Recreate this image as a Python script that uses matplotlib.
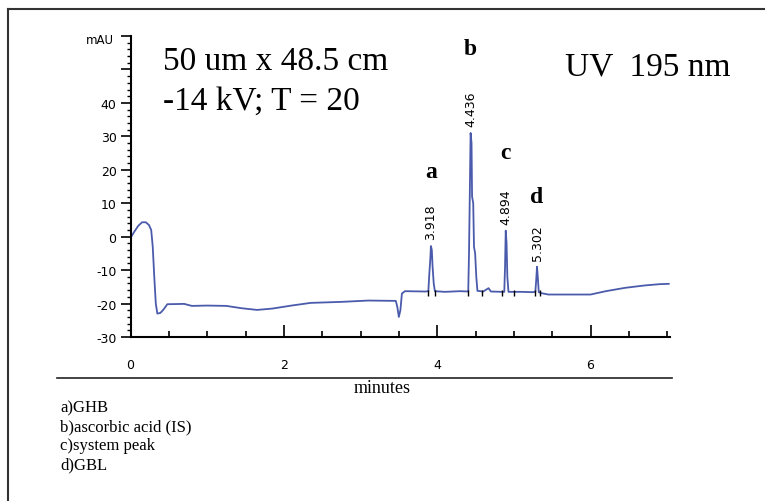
import matplotlib
matplotlib.use("Agg")
import matplotlib.pyplot as plt
from matplotlib.lines import Line2D
from matplotlib.ticker import MultipleLocator

# ----------------------------
# Electropherogram trace (minutes, mAU)
# ----------------------------
time_min = [
    0.00, 0.05, 0.10, 0.15, 0.20, 0.24, 0.27, 0.29, 0.31, 0.33, 0.35, 0.39, 0.43, 0.48,
    0.70, 0.80, 1.00, 1.25, 1.45, 1.65, 1.85, 2.10, 2.35, 2.75, 3.10, 3.46, 3.48, 3.50,
    3.52, 3.54, 3.58, 3.85,
    3.885, 3.895, 3.905, 3.912, 3.918, 3.93, 3.94, 3.955, 3.97,
    4.10, 4.30, 4.405,
    4.415, 4.425, 4.436, 4.448, 4.455, 4.47, 4.48, 4.495, 4.51, 4.525,
    4.60, 4.67, 4.70, 4.85,
    4.875, 4.885, 4.894, 4.905, 4.915, 4.93,
    5.10, 5.25,
    5.28, 5.29, 5.302, 5.312, 5.325, 5.36,
    5.45, 6.00, 6.20, 6.45, 6.70, 6.90, 7.02,
]
signal_mau = [
    -0.4, 1.5, 3.2, 4.3, 4.3, 3.5, 2.0, -3.0, -12.0, -20.0, -23.0, -22.8, -21.8, -20.2,
    -20.1, -20.7, -20.6, -20.7, -21.4, -21.9, -21.5, -20.6, -19.8, -19.5, -19.1, -19.2, -21.0, -24.0,
    -22.0, -17.0, -16.3, -16.4,
    -16.3, -12.0, -8.5, -6.0, -2.8, -4.0, -9.0, -14.0, -16.3,
    -16.5, -16.3, -16.4,
    -5.0, 12.0, 31.0, 28.0, 12.0, 10.0, -3.0, -5.0, -12.0, -16.2,
    -16.4, -15.4, -16.4, -16.5,
    -16.5, -9.0, 1.8, -2.0, -12.0, -16.5,
    -16.5, -16.6,
    -16.5, -13.5, -9.0, -12.0, -16.6, -16.9,
    -17.3, -17.3, -16.3, -15.3, -14.6, -14.2, -14.1,
]

# peaks: letter, retention time, apex height, letter height
peak_letters = ["a", "b", "c", "d"]
peak_times = [3.918, 4.436, 4.894, 5.302]
peak_tops = [-2.8, 31.0, 1.8, -9.0]
letter_y = [19.5, 56.4, 25.1, 12.0]

# integration marks at the peak bases
mark_times = [3.88, 3.97, 4.40, 4.59, 4.84, 5.00, 5.27, 5.34]

legend_lines = ["a)GHB", "b)ascorbic acid (IS)", "c)system peak", "d)GBL"]

W, H = 765, 502
fig = plt.figure(figsize=(W / 100, H / 100), dpi=100)
ax = fig.add_axes([130.5 / W, 1 - 338 / H, 539 / W, 301 / H])

trace_color = "#4b5bab"
ax.plot(time_min, signal_mau, color=trace_color, lw=1.3)
ax.vlines(mark_times, -17.8, -15.8, color="black", lw=1.0)

for letter, rt, top, ly in zip(peak_letters, peak_times, peak_tops, letter_y):
    ax.annotate(f"{rt:.3f}", xy=(rt, top), xytext=(0, 5), textcoords="offset points",
                rotation=90, ha="center", va="bottom", fontsize=9,
                family="DejaVu Sans")
    ax.text(rt, ly, letter, ha="center", va="center", fontsize=17,
            fontweight="bold", family="Liberation Serif")

ax.set_xlim(0, 7.03)
ax.set_ylim(-30, 60)
for side in ["top", "right"]:
    ax.spines[side].set_visible(False)
for side in ["left", "bottom"]:
    ax.spines[side].set_linewidth(1.5)

ax.xaxis.set_major_locator(MultipleLocator(2))
ax.xaxis.set_minor_locator(MultipleLocator(0.5))
ax.yaxis.set_minor_locator(MultipleLocator(2))
ax.set_yticks(range(-30, 61, 10))
ax.set_yticklabels([str(v) if v <= 40 else "" for v in range(-30, 61, 10)])
ax.tick_params(axis="x", direction="in", length=9, width=1.2, labelsize=9, pad=15)
ax.tick_params(axis="x", which="minor", direction="in", length=4, width=1.2)
ax.tick_params(axis="y", direction="out", length=7, width=1.2, labelsize=9, pad=3)
ax.tick_params(axis="y", which="minor", direction="out", length=3, width=1)
ax.text(-0.03, 59, "mAU", transform=ax.get_yaxis_transform(), ha="right",
        va="center", fontsize=8.5)

# title texts
serif = "Liberation Serif"
fig.text(163 / W, 1 - 70 / H, "50 um x 48.5 cm", family=serif, fontsize=24, va="baseline")
fig.text(163 / W, 1 - 110 / H, "-14 kV; T = 20", family=serif, fontsize=24, va="baseline")
fig.text(565 / W, 1 - 75 / H, "UV  195 nm", family=serif, fontsize=24, va="baseline")

# frame and separator
frame_kw = dict(transform=fig.transFigure, color="#333333", lw=1.5)
fig.add_artist(Line2D([8 / W, 1], [1 - 10 / H, 1 - 10 / H], **frame_kw))
fig.add_artist(Line2D([8 / W, 8 / W], [0, 1 - 10 / H], **frame_kw))
fig.add_artist(Line2D([57 / W, 672 / W], [1 - 379 / H, 1 - 379 / H],
                      transform=fig.transFigure, color="#222222", lw=1.2))

fig.text(382 / W, 1 - 389 / H, "minutes", family=serif, fontsize=13,
         ha="center", va="center")

for i, line in enumerate(legend_lines):
    fig.text(60 / W, 1 - (408 + 19 * i) / H, line, family=serif, fontsize=12,
             va="center")

fig.savefig("out.png", dpi=100)
